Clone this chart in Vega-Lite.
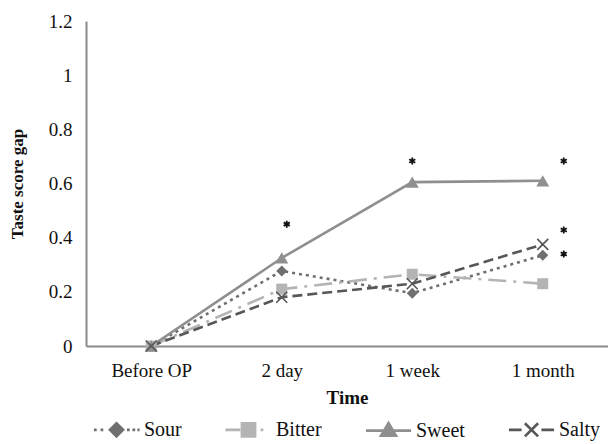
{
  "$schema": "https://vega.github.io/schema/vega-lite/v6.json",
  "autosize": {"type": "none"},
  "padding": {"left": 86, "top": 21, "right": 0, "bottom": 98},
  "width": 522,
  "height": 325,
  "background": "white",
  "config": {
    "view": {"stroke": null},
    "font": "Liberation Serif",
    "axis": {"grid": false, "ticks": false, "domainColor": "#8a8a8a", "domainWidth": 2, "labelFont": "Liberation Serif", "labelFontSize": 19, "labelColor": "#111", "titleFont": "Liberation Serif", "titleColor": "#111", "titleFontWeight": "bold"},
    "legend": {"labelFont": "Liberation Serif", "labelFontSize": 20, "labelColor": "#111"}
  },
  "datasets": {
    "taste": [
      {"time": "Before OP", "taste": "Sour", "gap": 0},
      {"time": "2 day", "taste": "Sour", "gap": 0.277},
      {"time": "1 week", "taste": "Sour", "gap": 0.195},
      {"time": "1 month", "taste": "Sour", "gap": 0.335},
      {"time": "Before OP", "taste": "Bitter", "gap": 0},
      {"time": "2 day", "taste": "Bitter", "gap": 0.21},
      {"time": "1 week", "taste": "Bitter", "gap": 0.265},
      {"time": "1 month", "taste": "Bitter", "gap": 0.23},
      {"time": "Before OP", "taste": "Sweet", "gap": 0},
      {"time": "2 day", "taste": "Sweet", "gap": 0.325},
      {"time": "1 week", "taste": "Sweet", "gap": 0.605},
      {"time": "1 month", "taste": "Sweet", "gap": 0.61},
      {"time": "Before OP", "taste": "Salty", "gap": 0},
      {"time": "2 day", "taste": "Salty", "gap": 0.18},
      {"time": "1 week", "taste": "Salty", "gap": 0.23},
      {"time": "1 month", "taste": "Salty", "gap": 0.375}
    ],
    "sig": [
      {"time": "2 day", "gap": 0.45},
      {"time": "1 week", "gap": 0.683},
      {"time": "1 month", "gap": 0.683},
      {"time": "1 month", "gap": 0.428},
      {"time": "1 month", "gap": 0.34}
    ]
  },
  "data": {"name": "taste"},
  "encoding": {
    "x": {"field": "time", "type": "nominal", "sort": ["Before OP", "2 day", "1 week", "1 month"],
      "scale": {"type": "point", "padding": 0.5, "domain": ["Before OP", "2 day", "1 week", "1 month"]},
      "axis": {"title": "Time", "labelAngle": 0, "labelPadding": 15, "titleFontSize": 19, "titlePadding": 8}},
    "y": {"field": "gap", "type": "quantitative",
      "scale": {"domain": [0, 1.2], "nice": false},
      "axis": {"title": "Taste score gap", "values": [0, 0.2, 0.4, 0.6, 0.8, 1, 1.2], "format": "~g", "labelPadding": 14, "titleFontSize": 17, "titlePadding": 22}}
  },
  "layer": [
    {
      "transform": [{"filter": "datum.taste == 'Sour'"}],
      "mark": {"type": "line", "strokeWidth": 2.6, "color": "#6f6f6f", "strokeDash": [3, 4]},
      "encoding": {}
    },
    {
      "transform": [{"filter": "datum.taste == 'Bitter'"}],
      "mark": {"type": "line", "strokeWidth": 2.6, "color": "#b4b4b4", "strokeDash": [18, 7, 3, 7]},
      "encoding": {}
    },
    {
      "transform": [{"filter": "datum.taste == 'Sweet'"}],
      "mark": {"type": "line", "strokeWidth": 2.6, "color": "#8f8f8f"},
      "encoding": {}
    },
    {
      "transform": [{"filter": "datum.taste == 'Salty'"}],
      "mark": {"type": "line", "strokeWidth": 2.6, "color": "#575757", "strokeDash": [10, 5]},
      "encoding": {}
    },
    {
      "transform": [{"filter": "datum.taste == 'Sour'"}],
      "mark": {"type": "point", "shape": "diamond", "filled": true, "opacity": 1, "size": 121, "color": "#6f6f6f"}
    },
    {
      "transform": [{"filter": "datum.taste == 'Bitter'"}],
      "mark": {"type": "point", "shape": "square", "filled": true, "opacity": 1, "size": 121, "color": "#b4b4b4"}
    },
    {
      "transform": [{"filter": "datum.taste == 'Sweet'"}],
      "mark": {"type": "point", "shape": "triangle-up", "filled": true, "opacity": 1, "size": 169, "color": "#8f8f8f"}
    },
    {
      "transform": [{"filter": "datum.taste == 'Salty'"}],
      "mark": {"type": "point", "shape": "M-1,-1L1,1M-1,1L1,-1", "filled": false, "opacity": 1, "size": 121, "strokeWidth": 1.6, "color": "#575757"}
    },
    {
      "data": {"name": "sig"},
      "transform": [{"filter": "datum.time == '2 day'"}],
      "mark": {"type": "point", "shape": "M0,-1L0,1M-0.87,-0.5L0.87,0.5M-0.87,0.5L0.87,-0.5", "filled": false, "opacity": 1, "size": 49, "strokeWidth": 1.8, "color": "#111", "xOffset": 5}
    },
    {
      "data": {"name": "sig"},
      "transform": [{"filter": "datum.time == '1 week'"}],
      "mark": {"type": "point", "shape": "M0,-1L0,1M-0.87,-0.5L0.87,0.5M-0.87,0.5L0.87,-0.5", "filled": false, "opacity": 1, "size": 49, "strokeWidth": 1.8, "color": "#111", "xOffset": 0}
    },
    {
      "data": {"name": "sig"},
      "transform": [{"filter": "datum.time == '1 month'"}],
      "mark": {"type": "point", "shape": "M0,-1L0,1M-0.87,-0.5L0.87,0.5M-0.87,0.5L0.87,-0.5", "filled": false, "opacity": 1, "size": 49, "strokeWidth": 1.8, "color": "#111", "xOffset": 21}
    },
    {
      "mark": {"type": "point", "filled": true, "opacity": 0, "strokeWidth": 2.6},
      "encoding": {
        "shape": {"field": "taste", "type": "nominal",
          "scale": {"domain": ["Sour", "Bitter", "Sweet", "Salty"], "range": [
            "M-2.05,0L-1.8,0M-1.45,0L-1.2,0M-0.6,0L0,-0.6L0.6,0L0,0.6ZM0.95,0L1.2,0M1.45,0L1.7,0M1.9,0L2.1,0",
            "M-2.1,0L-0.75,0M-0.6,-0.6L0.6,-0.6L0.6,0.6L-0.6,0.6ZM1.1,0L1.35,0",
            "M-2.05,0L2.05,0M0,-0.7L0.68,0.45L-0.68,0.45Z",
            "M-2.05,0L-0.9,0M-0.6,-0.6L0.6,0.6M-0.6,0.6L0.6,-0.6M0.9,0L2.05,0"
          ]},
          "legend": {"title": null, "orient": "bottom", "direction": "horizontal", "symbolSize": 484, "symbolStrokeWidth": 2.6, "symbolOpacity": 1, "symbolOffset": 18, "labelOffset": 15, "columnPadding": 36, "labelFont": "Liberation Serif", "labelFontSize": 20, "labelColor": "#111", "offset": 10}
        },
        "fill": {"field": "taste", "type": "nominal", "title": null,
          "scale": {"domain": ["Sour", "Bitter", "Sweet", "Salty"], "range": ["#6f6f6f", "#b4b4b4", "#8f8f8f", "#575757"]}},
        "stroke": {"field": "taste", "type": "nominal", "title": null,
          "scale": {"domain": ["Sour", "Bitter", "Sweet", "Salty"], "range": ["#6f6f6f", "#b4b4b4", "#8f8f8f", "#575757"]}}
      }
    }
  ]
}
